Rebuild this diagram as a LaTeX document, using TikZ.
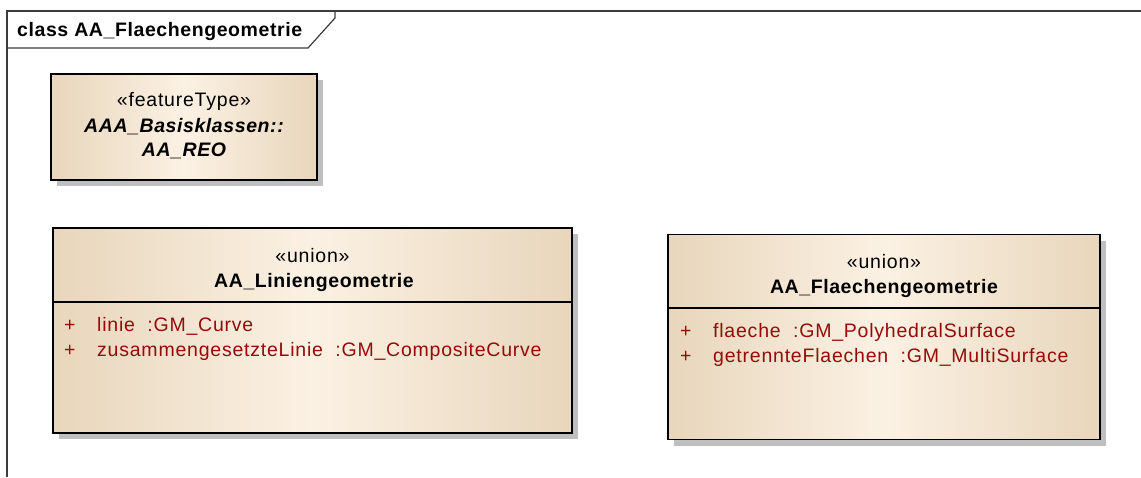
\documentclass[tikz,border=0pt]{standalone}
\usepackage{fontspec}
\setmainfont{Liberation Sans}
\newfontfamily\umlfont{Liberation Sans}[LetterSpace=3]
\newfontfamily\umlattrfont{Liberation Sans}[LetterSpace=4]
\usetikzlibrary{shadows}
\definecolor{umledge}{RGB}{232,214,188}
\definecolor{umlmid}{RGB}{251,241,227}
\definecolor{umlred}{RGB}{150,10,10}
\definecolor{framegray}{RGB}{60,60,60}
\tikzset{
  umlbox/.style={draw=black, line width=1.8pt, inner sep=0pt,
    left color=umledge, right color=umledge, middle color=umlmid,
    drop shadow={shadow xshift=6pt, shadow yshift=-6pt, fill=black!25, opacity=1}},
  stereo/.style={font=\umlattrfont\fontsize{19.5}{21}\selectfont, inner sep=0pt},
  cname/.style={font=\umlfont\bfseries\fontsize{19.5}{21}\selectfont, inner sep=0pt},
  cnameit/.style={font=\umlfont\bfseries\itshape\fontsize{19.5}{21}\selectfont, inner sep=0pt},
  attr/.style={font=\umlattrfont\fontsize{19.5}{21}\selectfont, text=umlred, inner sep=0pt, anchor=west},
  divider/.style={draw=black, line width=1.6pt},
  frameline/.style={draw=framegray, line width=1.2pt}
}
\begin{document}
\begin{tikzpicture}[x=1pt, y=-1pt]
\useasboundingbox (0,0) rectangle (1141,477);
\fill[white] (0,0) rectangle (1141,477);
% frame
\coordinate (fbl) at (7,477);
\coordinate (ftl) at (7,11);
\coordinate (ftr) at (1141,11);
\coordinate (tabr) at (335,11);
\coordinate (tabk) at (335,18);
\coordinate (tabd) at (308,48);
\coordinate (tabl) at (7,48);
\draw[frameline] (fbl) -- (ftl) -- (ftr);
\draw[frameline] (tabr) -- (tabk) -- (tabd) -- (tabl);
\node[cname, anchor=west] (title) at (17,31) {class AA\_Flaechengeometrie};

% featureType box
\node[umlbox, minimum width=266pt, minimum height=106pt] (reo) at (184,127) {};
\node[stereo] (reoS) at (184,101) {«featureType»};
\node[cnameit] (reoN1) at (184,127) {AAA\_Basisklassen::};
\node[cnameit] (reoN2) at (184,151) {AA\_REO};

% Liniengeometrie
\node[umlbox, minimum width=519pt, minimum height=205pt] (lin) at (312.5,330.5) {};
\coordinate (linL) at (53,302);
\coordinate (linR) at (572,302);
\draw[divider] (linL) -- (linR);
\node[stereo] (linS) at (312.5,256) {«union»};
\node[cname] (linN) at (314,282) {AA\_Liniengeometrie};
\node[attr] (linP1) at (64,326) {+};
\node[attr] (linA1) at (97,326) {linie\ \ :GM\_Curve};
\node[attr] (linP2) at (64,351) {+};
\node[attr] (linA2) at (97,351) {zusammengesetzteLinie\ \ :GM\_CompositeCurve};

% Flaechengeometrie
\node[umlbox, minimum width=432pt, minimum height=205pt] (fl) at (884,337) {};
\coordinate (flL) at (668,308);
\coordinate (flR) at (1100,308);
\draw[divider] (flL) -- (flR);
\node[stereo] (flS) at (884,262) {«union»};
\node[cname] (flN) at (884,288) {AA\_Flaechengeometrie};
\node[attr] (flP1) at (680,332) {+};
\node[attr] (flA1) at (713,332) {flaeche\ \ :GM\_PolyhedralSurface};
\node[attr] (flP2) at (680,357) {+};
\node[attr] (flA2) at (713,357) {getrennteFlaechen\ \ :GM\_MultiSurface};
\end{tikzpicture}
\end{document}
